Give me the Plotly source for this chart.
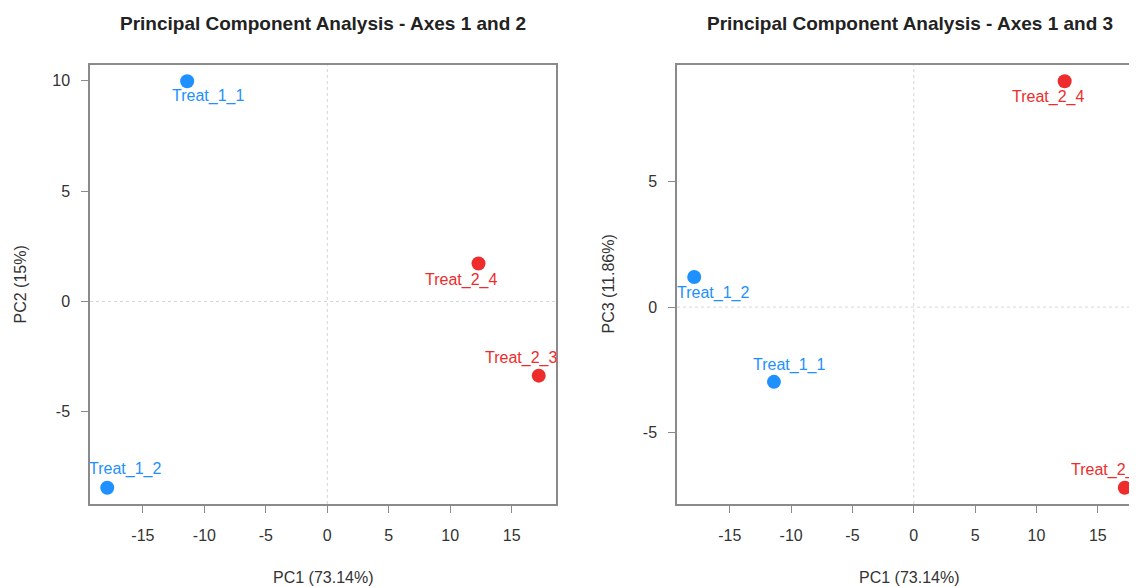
import plotly.graph_objects as go

# ---------------- data ----------------
samples = ["Treat_1_1", "Treat_1_2", "Treat_2_3", "Treat_2_4"]
groups = ["Treat_1", "Treat_1", "Treat_2", "Treat_2"]
pc1 = [-11.4, -17.9, 17.2, 12.3]
pc2 = [9.98, -8.44, -3.36, 1.72]
pc3 = [-2.98, 1.2, -7.2, 9.0]
var_pc1 = "73.14%"
var_pc2 = "15%"
var_pc3 = "11.86%"
x_ticks = [-15, -10, -5, 0, 5, 10, 15]
x_tick_labels = ["-15", "-10", "-5", "0", "5", "10", "15"]
y_ticks_12 = [-5, 0, 5, 10]
y_tick_labels_12 = ["-5", "0", "5", "10"]
y_ticks_13 = [-5, 0, 5]
y_tick_labels_13 = ["-5", "0", "5"]
titles = ["Principal Component Analysis - Axes 1 and 2",
          "Principal Component Analysis - Axes 1 and 3"]

# ---------------- styles ----------------
group_colors = {"Treat_1": "#1E90FF", "Treat_2": "#EE2C2C"}
FONT = "Liberation Sans, Arial, sans-serif"
W, H = 1137, 587
OFF = 8  # page body margin
FRAME = "#8a8a8a"
TICKC = "#333333"

# panel pixel boxes in page coords (left, right, top, bottom)
P1 = (90, 556, 65, 504)
P2 = (677, 1142, 65, 504)

# label offsets in px (dx right, dy down)
lab_off_1 = {"Treat_1_1": (21, 15), "Treat_1_2": (18, -19),
             "Treat_2_3": (-18, -18), "Treat_2_4": (-18, 16)}
lab_off_2 = {"Treat_1_1": (15, -17), "Treat_1_2": (19, 16),
             "Treat_2_3": (-18, -18), "Treat_2_4": (-17, 16)}


def rlim(v):
    lo, hi = min(v), max(v)
    pad = 0.04 * (hi - lo)
    return [lo - pad, hi + pad]


xlim = rlim(pc1)
ylim2 = rlim(pc2)
ylim3 = rlim(pc3)


def fx(px):
    return (px - OFF) / W


def fy(py):
    return 1 - (py - OFF) / H


def dom_x(p):
    return [fx(p[0]), fx(p[1])]


def dom_y(p):
    return [fy(p[3]), fy(p[2])]


fig = go.Figure()
colors = [group_colors[g] for g in groups]

fig.add_trace(go.Scatter(x=pc1, y=pc2, mode="markers", xaxis="x", yaxis="y",
                         marker=dict(size=14, color=colors, line=dict(width=0)),
                         showlegend=False, cliponaxis=False))
fig.add_trace(go.Scatter(x=pc1, y=pc3, mode="markers", xaxis="x2", yaxis="y2",
                         marker=dict(size=14, color=colors, line=dict(width=0)),
                         showlegend=False, cliponaxis=False))

LABEL_SIZE = 16
annotations = []
for s, g, a, b in zip(samples, groups, pc1, pc2):
    dx, dy = lab_off_1[s]
    annotations.append(dict(x=a, y=b, xref="x", yref="y", text=s, showarrow=False,
                            xshift=dx, yshift=-dy,
                            font=dict(family=FONT, size=LABEL_SIZE, color=group_colors[g])))
for s, g, a, b in zip(samples, groups, pc1, pc3):
    dx, dy = lab_off_2[s]
    annotations.append(dict(x=a, y=b, xref="x2", yref="y2", text=s, showarrow=False,
                            xshift=dx, yshift=-dy,
                            font=dict(family=FONT, size=LABEL_SIZE, color=group_colors[g])))

# titles
for t, p in zip(titles, (P1, P2)):
    annotations.append(dict(x=fx((p[0] + p[1]) / 2), y=fy(23), xref="paper", yref="paper",
                            text="<b>" + t + "</b>", showarrow=False,
                            xanchor="center", yanchor="middle",
                            font=dict(family=FONT, size=19, color="#222222")))
# axis titles
for p in (P1, P2):
    annotations.append(dict(x=fx((p[0] + p[1]) / 2), y=fy(577), xref="paper", yref="paper",
                            text="PC1 (" + var_pc1 + ")", showarrow=False,
                            xanchor="center", yanchor="middle",
                            font=dict(family=FONT, size=16, color=TICKC)))
for txt, xc in (("PC2 (" + var_pc2 + ")", 20), ("PC3 (" + var_pc3 + ")", 608)):
    annotations.append(dict(x=fx(xc), y=fy((P1[2] + P1[3]) / 2), xref="paper", yref="paper",
                            text=txt, showarrow=False, textangle=-90,
                            xanchor="center", yanchor="middle",
                            font=dict(family=FONT, size=16, color=TICKC)))

shapes = []
# dotted reference lines at 0
for xr, yr in (("x", "y"), ("x2", "y2")):
    shapes.append(dict(type="line", xref=xr, yref=yr + " domain", x0=0, x1=0, y0=0, y1=1,
                       line=dict(color="#d6d6d6", width=1, dash="dot"), layer="below"))
    shapes.append(dict(type="line", xref=xr + " domain", yref=yr, x0=0, x1=1, y0=0, y1=0,
                       line=dict(color="#d6d6d6", width=1, dash="dot"), layer="below"))

axis_common = dict(showgrid=False, zeroline=False, showline=True, mirror=True,
                   linecolor=FRAME, linewidth=1.5,
                   ticks="outside", ticklen=7, tickcolor=FRAME, tickwidth=1,
                   tickfont=dict(family=FONT, size=16, color=TICKC), fixedrange=True)

fig.update_layout(
    width=W, height=H, autosize=False,
    margin=dict(l=0, r=0, t=0, b=0),
    paper_bgcolor="white", plot_bgcolor="white",
    xaxis=dict(domain=dom_x(P1), range=xlim, tickvals=x_ticks, ticktext=x_tick_labels,
               anchor="y", ticklabelstandoff=9, **axis_common),
    yaxis=dict(domain=dom_y(P1), range=ylim2, tickvals=y_ticks_12, ticktext=y_tick_labels_12,
               anchor="x", ticklabelstandoff=8, **axis_common),
    xaxis2=dict(domain=dom_x(P2), range=xlim, tickvals=x_ticks, ticktext=x_tick_labels,
                anchor="y2", ticklabelstandoff=9, **axis_common),
    yaxis2=dict(domain=dom_y(P2), range=ylim3, tickvals=y_ticks_13, ticktext=y_tick_labels_13,
                anchor="x2", ticklabelstandoff=8, **axis_common),
    annotations=annotations,
    shapes=shapes,
)

fig.write_html("out.html")
